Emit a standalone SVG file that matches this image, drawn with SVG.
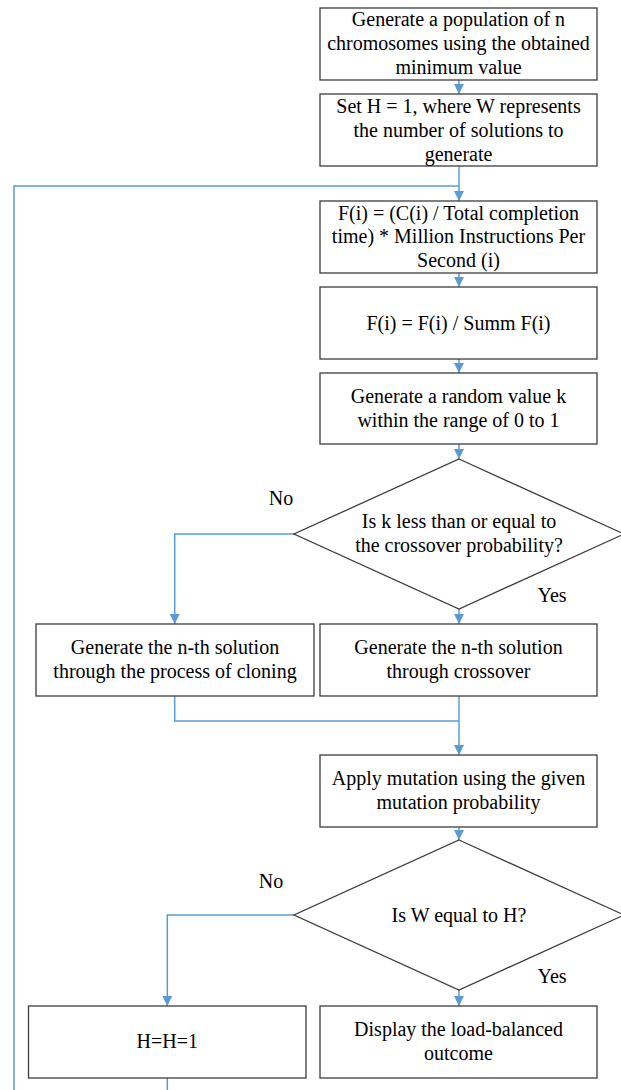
<svg xmlns="http://www.w3.org/2000/svg" width="621" height="1090" viewBox="0 0 621 1090">
<defs>
<marker id="arr" viewBox="0 0 10 10" refX="10" refY="5" markerWidth="10" markerHeight="10" markerUnits="userSpaceOnUse" orient="auto">
<path d="M0,0 L10,5 L0,10 Z" fill="#5B9BD5"/>
</marker>
</defs>
<style>
.box{fill:#ffffff;stroke:#3c3c3c;stroke-width:1.3}
.sh{fill:none;stroke:#e4e4e4;stroke-width:2}
.t{font-family:"Liberation Serif","Times New Roman",serif;font-size:20px;fill:#000;text-anchor:middle}
.c{fill:none;stroke:#5B9BD5;stroke-width:1.5}
</style>
<rect width="621" height="1090" fill="#ffffff"/>
<g id="connectors">
<path class="c" d="M459,80 V94" marker-end="url(#arr)"/>
<path class="c" d="M459,166 V201" marker-end="url(#arr)"/>
<path class="c" d="M14,1090 V186 H459"/>
<path class="c" d="M167.3,1078 V1090"/>
<path class="c" d="M459,273 V287" marker-end="url(#arr)"/>
<path class="c" d="M459,359 V373" marker-end="url(#arr)"/>
<path class="c" d="M459,444 V459" marker-end="url(#arr)"/>
<path class="c" d="M294,534 H174.7 V624" marker-end="url(#arr)"/>
<path class="c" d="M459,609 V624" marker-end="url(#arr)"/>
<path class="c" d="M174.7,696 V721 H459"/>
<path class="c" d="M459,696 V755" marker-end="url(#arr)"/>
<path class="c" d="M459,827 V840" marker-end="url(#arr)"/>
<path class="c" d="M294,915 H167.3 V1006" marker-end="url(#arr)"/>
<path class="c" d="M459,990 V1006" marker-end="url(#arr)"/>
</g>
<g id="n1">
<rect class="box" x="320" y="8" width="277" height="72"/>
<text class="t" x="458.5" y="26">Generate a population of n</text>
<text class="t" x="458.5" y="50">chromosomes using the obtained</text>
<text class="t" x="458.5" y="74">minimum value</text>
</g>
<g id="n2">
<rect class="box" x="320" y="94" width="277" height="72"/>
<text class="t" x="458.5" y="113">Set H = 1, where W represents</text>
<text class="t" x="458.5" y="137">the number of solutions to</text>
<text class="t" x="458.5" y="161">generate</text>
</g>
<g id="n3">
<rect class="box" x="320" y="201" width="277" height="72"/>
<text class="t" x="458.5" y="220">F(i) = (C(i) / Total completion</text>
<text class="t" x="458.5" y="243">time) * Million Instructions Per</text>
<text class="t" x="458.5" y="267">Second (i)</text>
</g>
<g id="n4">
<rect class="box" x="320" y="287" width="277" height="72"/>
<text class="t" x="458.5" y="330">F(i) = F(i) / Summ F(i)</text>
</g>
<g id="n5">
<rect class="box" x="320" y="373" width="277" height="71"/>
<text class="t" x="458.5" y="403">Generate a random value k</text>
<text class="t" x="458.5" y="427">within the range of 0 to 1</text>
</g>
<g id="d1">
<polygon class="box" points="459,459 624,534 459,609 294,534"/>
<text class="t" x="459" y="528">Is k less than or equal to</text>
<text class="t" x="459" y="552">the crossover probability?</text>
<text class="t" x="281" y="505">No</text>
<text class="t" x="552" y="602">Yes</text>
</g>
<g id="n6">
<rect class="box" x="36" y="624" width="278" height="72"/>
<text class="t" x="175" y="654">Generate the n-th solution</text>
<text class="t" x="175" y="678">through the process of cloning</text>
</g>
<g id="n7">
<rect class="box" x="320" y="624" width="277" height="72"/>
<text class="t" x="458.5" y="654">Generate the n-th solution</text>
<text class="t" x="458.5" y="678">through crossover</text>
</g>
<g id="n8">
<rect class="box" x="320" y="755" width="277" height="72"/>
<text class="t" x="458.5" y="785">Apply mutation using the given</text>
<text class="t" x="458.5" y="809">mutation probability</text>
</g>
<g id="d2">
<polygon class="box" points="459,840 624,915 459,990 294,915"/>
<text class="t" x="459" y="922">Is W equal to H?</text>
<text class="t" x="271" y="888">No</text>
<text class="t" x="552" y="983">Yes</text>
</g>
<g id="n9">
<rect class="box" x="28.5" y="1006" width="277.5" height="72"/>
<text class="t" x="167.3" y="1048">H=H=1</text>
</g>
<g id="n10">
<rect class="box" x="320" y="1006" width="277" height="72"/>
<text class="t" x="458.5" y="1036">Display the load-balanced</text>
<text class="t" x="458.5" y="1060">outcome</text>
</g>
</svg>
